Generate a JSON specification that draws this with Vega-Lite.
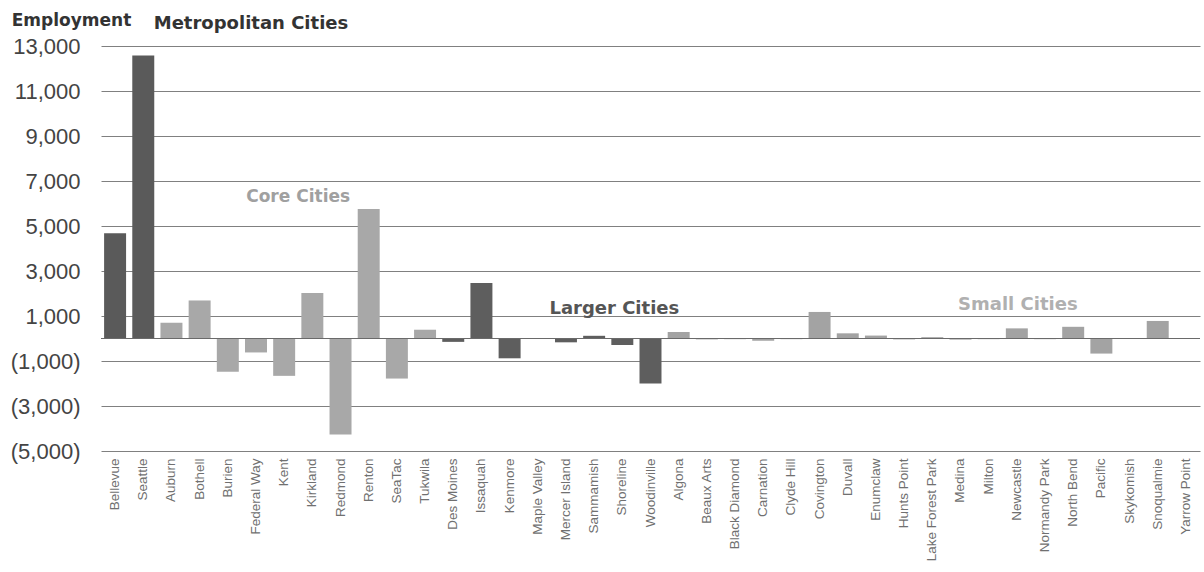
{
  "$schema": "https://vega.github.io/schema/vega-lite/v6.json",
  "autosize": {"type": "none"},
  "padding": {"left": 101, "top": 46, "right": 4, "bottom": 121},
  "width": 1099,
  "height": 405,
  "background": "white",
  "config": {"view": {"stroke": null}},
  "data": {
    "values": [
      {"city": "Bellevue", "group": "Metropolitan", "value": 4680},
      {"city": "Seattle", "group": "Metropolitan", "value": 12580},
      {"city": "Auburn", "group": "Core", "value": 700},
      {"city": "Bothell", "group": "Core", "value": 1690},
      {"city": "Burien", "group": "Core", "value": -1480},
      {"city": "Federal Way", "group": "Core", "value": -620},
      {"city": "Kent", "group": "Core", "value": -1660},
      {"city": "Kirkland", "group": "Core", "value": 2020},
      {"city": "Redmond", "group": "Core", "value": -4270},
      {"city": "Renton", "group": "Core", "value": 5760},
      {"city": "SeaTac", "group": "Core", "value": -1780},
      {"city": "Tukwila", "group": "Core", "value": 390},
      {"city": "Des Moines", "group": "Larger", "value": -150},
      {"city": "Issaquah", "group": "Larger", "value": 2470},
      {"city": "Kenmore", "group": "Larger", "value": -880},
      {"city": "Maple Valley", "group": "Larger", "value": 0},
      {"city": "Mercer Island", "group": "Larger", "value": -170},
      {"city": "Sammamish", "group": "Larger", "value": 120},
      {"city": "Shoreline", "group": "Larger", "value": -290},
      {"city": "Woodinville", "group": "Larger", "value": -2000},
      {"city": "Algona", "group": "Small", "value": 290},
      {"city": "Beaux Arts", "group": "Small", "value": -40},
      {"city": "Black Diamond", "group": "Small", "value": -30},
      {"city": "Carnation", "group": "Small", "value": -100},
      {"city": "Clyde Hill", "group": "Small", "value": -30},
      {"city": "Covington", "group": "Small", "value": 1180},
      {"city": "Duvall", "group": "Small", "value": 230},
      {"city": "Enumclaw", "group": "Small", "value": 130},
      {"city": "Hunts Point", "group": "Small", "value": -40},
      {"city": "Lake Forest Park", "group": "Small", "value": 60},
      {"city": "Medina", "group": "Small", "value": -50},
      {"city": "Milton", "group": "Small", "value": -30},
      {"city": "Newcastle", "group": "Small", "value": 450},
      {"city": "Normandy Park", "group": "Small", "value": -30},
      {"city": "North Bend", "group": "Small", "value": 520},
      {"city": "Pacific", "group": "Small", "value": -670},
      {"city": "Skykomish", "group": "Small", "value": -20},
      {"city": "Snoqualmie", "group": "Small", "value": 780},
      {"city": "Yarrow Point", "group": "Small", "value": -20}
    ]
  },
  "encoding": {
    "x": {
      "field": "city",
      "type": "nominal",
      "sort": null,
      "scale": {"paddingInner": 0.22, "paddingOuter": 0.11},
      "axis": {
        "title": null,
        "labelAngle": -90,
        "labelAlign": "right",
        "labelBaseline": "middle",
        "labelPadding": 7,
        "labelFont": "Liberation Sans",
        "labelFontSize": 13.5,
        "labelColor": "#707070",
        "domain": false,
        "ticks": false,
        "grid": false
      }
    }
  },
  "layer": [
    {
      "mark": {"type": "bar"},
      "encoding": {
        "y": {
          "field": "value",
          "type": "quantitative",
          "scale": {"domain": [-5000, 13000], "nice": false, "zero": false},
          "axis": {
            "values": [-5000, -3000, -1000, 1000, 3000, 5000, 7000, 9000, 11000, 13000],
            "labelExpr": "datum.value < 0 ? '(' + format(-datum.value, ',') + ')' : format(datum.value, ',')",
            "labelFont": "Liberation Sans",
            "labelFontSize": 22,
            "labelColor": "#444444",
            "labelPadding": 21,
            "domain": false,
            "ticks": false,
            "grid": true,
            "gridColor": "#808080",
            "gridWidth": 1,
            "title": "Employment",
            "titleAngle": 0,
            "titleAlign": "center",
            "titleBaseline": "alphabetic",
            "titleX": -30,
            "titleY": -21,
            "titleFont": "DejaVu Sans",
            "titleFontSize": 17,
            "titleFontWeight": "bold",
            "titleColor": "#333333"
          }
        },
        "color": {
          "field": "group",
          "type": "nominal",
          "scale": {
            "domain": ["Metropolitan", "Core", "Larger", "Small"],
            "range": ["#5a5a5a", "#a8a8a8", "#5e5e5e", "#a3a3a3"]
          },
          "legend": null
        }
      }
    },
    {
      "data": {"values": [{"zero": 0}]},
      "mark": {"type": "rule", "color": "#6a6a6a", "strokeWidth": 1},
      "encoding": {"x": null, "y": {"field": "zero", "type": "quantitative"}}
    },
    {
      "data": {"values": [{"city": "Federal Way", "y": 13756, "label": "Metropolitan Cities"}]},
      "mark": {"type": "text", "font": "DejaVu Sans", "fontSize": 18, "fontWeight": "bold", "color": "#333333", "align": "center", "baseline": "alphabetic", "dx": -5},
      "encoding": {"y": {"field": "y", "type": "quantitative"}, "text": {"field": "label"}}
    },
    {
      "data": {"values": [{"city": "Kent", "y": 6074, "label": "Core Cities"}]},
      "mark": {"type": "text", "font": "DejaVu Sans", "fontSize": 17, "fontWeight": "bold", "color": "#a0a0a0", "align": "center", "baseline": "alphabetic", "dx": 14},
      "encoding": {"y": {"field": "y", "type": "quantitative"}, "text": {"field": "label"}}
    },
    {
      "data": {"values": [{"city": "Shoreline", "y": 1109, "label": "Larger Cities"}]},
      "mark": {"type": "text", "font": "DejaVu Sans", "fontSize": 18, "fontWeight": "bold", "color": "#555555", "align": "center", "baseline": "alphabetic", "dx": -8},
      "encoding": {"y": {"field": "y", "type": "quantitative"}, "text": {"field": "label"}}
    },
    {
      "data": {"values": [{"city": "Newcastle", "y": 1256, "label": "Small Cities"}]},
      "mark": {"type": "text", "font": "DejaVu Sans", "fontSize": 18, "fontWeight": "bold", "color": "#b0b0b0", "align": "center", "baseline": "alphabetic", "dx": 1},
      "encoding": {"y": {"field": "y", "type": "quantitative"}, "text": {"field": "label"}}
    }
  ]
}
